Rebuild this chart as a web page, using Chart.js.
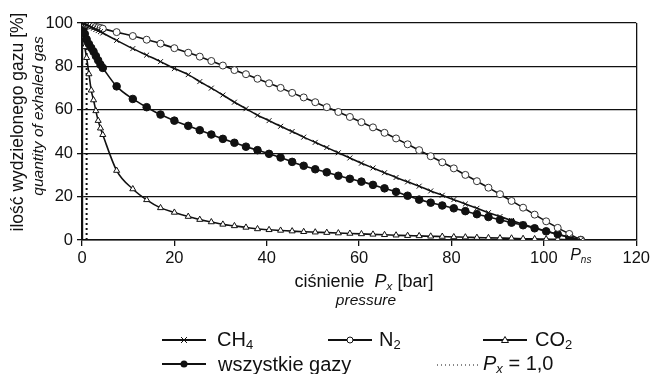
<!DOCTYPE html>
<html>
<head>
<meta charset="utf-8">
<script src="https://cdn.jsdelivr.net/npm/chart.js@4"></script>
<style>
    body { margin: 0; background: #fff; }
    #wrap { position: relative; width: 653px; height: 374px; font-family: 'Liberation Sans', Arial, sans-serif; color: #111; }
    #chart { position: absolute; left: 0; top: 0; }
    .lbl { position: absolute; white-space: nowrap; line-height: 1; }
    .rot { transform: translate(-50%, -50%) rotate(-90deg); }
    .ctr { transform: translate(-50%, -50%); }
    .leg { position: absolute; font-size: 20px; white-space: nowrap; line-height: 1; transform: translateY(-50%); }
    .sw { position: absolute; transform: translateY(-50%); }
    sub { font-size: 0.65em; vertical-align: -0.25em; }
</style>
</head>
<body>
<div id="wrap">
    <canvas id="chart" width="653" height="374"></canvas>

    <!-- axis titles -->
    <div class="lbl rot" style="left:18px; top:122px; font-size:17.5px;">ilość wydzielonego gazu [%]</div>
    <div class="lbl rot" style="left:38px; top:116px; font-size:15.5px; font-style:italic;">quantity of exhaled gas</div>
    <div class="lbl ctr" style="left:364px; top:282px; font-size:18px;">ciśnienie&nbsp;&nbsp;<i>P<sub>x</sub></i> [bar]</div>
    <div class="lbl ctr" style="left:366px; top:300px; font-size:15.5px; font-style:italic;">pressure</div>

    <!-- legend -->
    <svg class="sw" style="left:162px; top:340px;" width="44" height="12">
        <line x1="0" y1="6" x2="44" y2="6" stroke="#111" stroke-width="2"/>
        <path d="M19 3 L25 9 M25 3 L19 9" stroke="#111" stroke-width="1"/>
    </svg>
    <div class="leg" style="left:217px; top:340px;">CH<sub>4</sub></div>

    <svg class="sw" style="left:328px; top:340px;" width="44" height="12">
        <line x1="0" y1="6" x2="44" y2="6" stroke="#111" stroke-width="2"/>
        <circle cx="22" cy="6" r="3" fill="#fff" stroke="#111" stroke-width="1"/>
    </svg>
    <div class="leg" style="left:379px; top:340px;">N<sub>2</sub></div>

    <svg class="sw" style="left:483px; top:340px;" width="44" height="12">
        <line x1="0" y1="6" x2="44" y2="6" stroke="#111" stroke-width="2"/>
        <path d="M22 2.5 L25.5 8.5 L18.5 8.5 Z" fill="#fff" stroke="#111" stroke-width="1"/>
    </svg>
    <div class="leg" style="left:535px; top:340px;">CO<sub>2</sub></div>

    <svg class="sw" style="left:162px; top:364px;" width="44" height="12">
        <line x1="0" y1="6" x2="44" y2="6" stroke="#111" stroke-width="2"/>
        <circle cx="22" cy="6" r="3.5" fill="#111"/>
    </svg>
    <div class="leg" style="left:218px; top:364px;">wszystkie gazy</div>

    <svg class="sw" style="left:437px; top:364px;" width="42" height="12">
        <line x1="0" y1="7" x2="42" y2="7" stroke="#111" stroke-width="1" stroke-dasharray="1 3"/>
    </svg>
    <div class="leg" style="left:483px; top:364px;"><i>P<sub>x</sub></i> = 1,0</div>
</div>

<script>
// pressure [bar] at which the samples were read
const pressure = [0, 0.3, 0.6, 1, 1.5, 2, 2.5, 3, 3.5, 4, 4.5, 7.5, 11, 14, 17, 20, 23,
    25.5, 28, 30.5, 33, 35.5, 38, 40.5, 43, 45.5, 48, 50.5, 53, 55.5, 58, 60.5, 63, 65.5,
    68, 70.5, 73, 75.5, 78, 80.5, 83, 85.5, 88, 90.5, 93, 95.5, 98, 100.5, 103, 105.5, 108];

// quantity of exhaled gas [%]
const ch4 = [100, 99.8, 99.5, 99.1, 98.6, 98.1, 97.6, 97, 96.5, 96, 95.4, 92, 88.2, 85.2, 82.2, 79, 76.2,
    73, 70, 66.8, 63.5, 60.5, 57.5, 55, 52.4, 50, 47.4, 45, 42.6, 40.2, 37.8, 35.4, 33.2, 31,
    28.8, 26.8, 24.8, 22.6, 20.6, 18.6, 16.6, 14.6, 12.6, 10.8, 9, 7.3, 5.6, 4, 2.6, 1.3, 0];

const n2 = [100, 99.9, 99.7, 99.5, 99.2, 98.9, 98.6, 98.3, 98, 97.7, 97.4, 95.8, 94, 92.3, 90.5, 88.4, 86.3,
    84.5, 82.5, 80.4, 78.3, 76.4, 74.3, 72.2, 70.1, 67.8, 65.7, 63.5, 61.2, 59, 56.7, 54.3, 51.9, 49.4,
    46.8, 44.1, 41.4, 38.6, 35.8, 33, 30, 27.1, 24.1, 21.1, 18, 14.9, 11.7, 8.6, 5.6, 2.8, 0];

const co2 = [100, 94, 89, 84, 76.5, 69, 64.5, 59.5, 55, 51.5, 48.5, 32, 23.5, 18.5, 14.8, 12.7, 10.8,
    9.4, 8.3, 7.2, 6.5, 5.8, 5.1, 4.7, 4.4, 4.1, 3.8, 3.6, 3.4, 3.2, 3, 2.8, 2.6, 2.4,
    2.2, 2, 1.9, 1.7, 1.6, 1.4, 1.3, 1.1, 1, 0.9, 0.8, 0.6, 0.5, 0.4, 0.3, 0.1, 0];

const allGases = [100, 97.5, 95, 92.5, 90.3, 88.5, 86.8, 84.8, 82.8, 80.8, 79.3, 70.8, 65, 61.2, 57.8, 55, 52.6,
    50.6, 48.6, 46.6, 44.8, 43, 41.4, 39.7, 38, 36, 34.2, 32.6, 31.2, 29.6, 28.2, 26.9, 25.4, 23.8,
    22.2, 20.4, 18.6, 17.2, 15.9, 14.6, 13.3, 11.9, 10.6, 9.3, 8, 6.8, 5.4, 4, 2.7, 1.3, 0];

// vertical marker line Px = 1,0
const pxLineX = [1, 1];
const pxLineY = [0, 100];

const pns = 108;
const xTicks = [0, 20, 40, 60, 80, 100, 120];

const FONT = "'Liberation Sans', Arial, sans-serif";

function pts(xs, ys) {
    return xs.map((x, i) => ({ x, y: ys[i] }));
}

function series(label, ys, style) {
    return Object.assign({
        label,
        data: pts(pressure, ys),
        borderColor: '#111',
        borderWidth: 1.6,
        pointBorderColor: '#111',
        pointBorderWidth: 1,
        pointRadius: 3.5,
        cubicInterpolationMode: 'monotone',
        showLine: true,
    }, style);
}

// "Pns" label under the x axis
const pnsLabel = {
    id: 'pnsLabel',
    afterDraw(chart) {
        const ctx = chart.ctx;
        const x = chart.scales.x.getPixelForValue(pns);
        const y = chart.chartArea.bottom + 16;
        ctx.save();
        ctx.fillStyle = '#111';
        ctx.textBaseline = 'middle';
        ctx.font = 'italic 16px ' + FONT;
        const w1 = ctx.measureText('P').width;
        ctx.font = 'italic 10px ' + FONT;
        const w2 = ctx.measureText('ns').width;
        let x0 = x - (w1 + w2) / 2;
        ctx.font = 'italic 16px ' + FONT;
        ctx.fillText('P', x0, y);
        ctx.font = 'italic 10px ' + FONT;
        ctx.fillText('ns', x0 + w1, y + 4);
        ctx.restore();
    }
};

new Chart(document.getElementById('chart'), {
    type: 'scatter',
    data: {
        datasets: [
            series('CH4', ch4, { pointStyle: 'crossRot', pointRadius: 3.5 }),
            series('N2', n2, { pointStyle: 'circle', pointBackgroundColor: '#fff', pointBorderColor: '#333' }),
            series('wszystkie gazy', allGases, { pointStyle: 'circle', pointBackgroundColor: '#111', pointRadius: 3.8 }),
            series('CO2', co2, { pointStyle: 'triangle', pointBackgroundColor: '#fff', pointRadius: 3.5 }),
            {
                label: 'Px = 1,0',
                data: pts(pxLineX, pxLineY),
                showLine: true,
                borderColor: '#111',
                borderWidth: 2,
                borderDash: [2, 3],
                pointRadius: 0,
            }
        ]
    },
    options: {
        responsive: false,
        animation: false,
        layout: { padding: { left: 46, right: 15, top: 23, bottom: 104 } },
        plugins: {
            legend: { display: false },
            tooltip: { enabled: false }
        },
        scales: {
            x: {
                type: 'linear',
                min: 0,
                max: 120,
                afterBuildTicks: s => { s.ticks = xTicks.map(v => ({ value: v })); },
                afterFit: s => { s.height = 30; },
                ticks: { color: '#111', font: { family: FONT, size: 16.5 }, padding: 3, maxRotation: 0 },
                grid: {
                    color: c => (c.tick && c.tick.value === 120) ? '#111' : 'rgba(0,0,0,0)',
                    lineWidth: 1.3,
                    tickColor: '#111',
                    tickLength: 6,
                },
                border: { color: '#111', width: 1.5 }
            },
            y: {
                min: 0,
                max: 100,
                ticks: {
                    stepSize: 10,
                    color: '#111',
                    font: { family: FONT, size: 16.5 },
                    padding: 4,
                    callback: v => (v % 20 === 0 ? v : '')
                },
                afterFit: s => { s.width = 36; },
                grid: {
                    color: c => (c.tick && c.tick.value % 20 === 0) ? '#111' : '#8a8a8a',
                    lineWidth: 1.3,
                    tickColor: c => (c.tick && c.tick.value % 20 === 0) ? '#111' : 'rgba(0,0,0,0)',
                    tickLength: 5,
                },
                border: { color: '#111', width: 2.2 }
            }
        }
    },
    plugins: [pnsLabel]
});
</script>
</body>
</html>
